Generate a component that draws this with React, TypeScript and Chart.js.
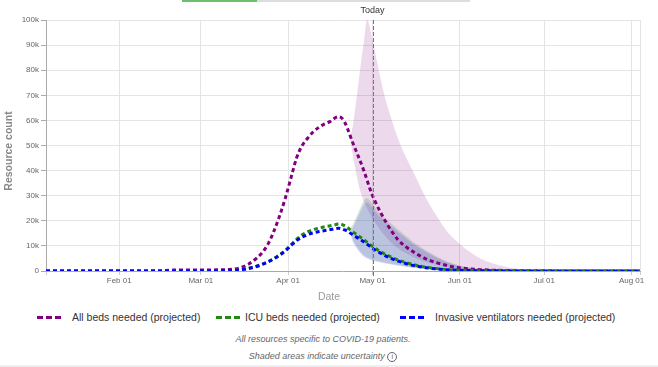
import React, { useEffect, useRef } from 'react';
import { Chart, registerables } from 'chart.js';

Chart.register(...registerables);

// ---- Data (day index: 0 = Jan 01 2020), values in thousands ----
const lineDays = [5, 40, 45, 50, 60, 66, 70, 72, 74, 77, 80, 82, 84, 86, 88, 90, 92, 94, 96, 98, 100, 102, 104, 106, 108, 109, 110, 111, 112, 114, 116, 118, 120, 121, 122, 124, 126, 128, 130, 133, 136, 140, 145, 150, 155, 160, 170, 185, 216];
const allBedsK = [0, 0, 0, 0.35, 0.4, 0.45, 0.6, 0.8, 1.3, 2.8, 5.3, 7.6, 11, 16, 22, 29, 37, 45, 50, 53, 55.5, 57.3, 58.6, 59.6, 61.2, 61.5, 61, 59.5, 57, 51, 45.5, 39.7, 33, 30, 27.5, 23, 19, 15.5, 12.5, 9.5, 7.3, 4.8, 2.9, 1.6, 0.9, 0.5, 0.15, 0.05, 0.02];
const icuBedsK = [0, 0, 0, 0, 0.05, 0.1, 0.2, 0.3, 0.5, 1.1, 2.0, 2.8, 3.8, 5.0, 6.5, 8.2, 10.4, 12.6, 14.4, 15.7, 16.5, 17.1, 17.6, 18.0, 18.5, 18.8, 18.6, 18.1, 17.4, 15.6, 14.0, 12.4, 10.6, 9.8, 9.0, 7.6, 6.4, 5.3, 4.4, 3.3, 2.4, 1.5, 0.8, 0.4, 0.22, 0.12, 0.04, 0.01, 0];
const ventilatorsK = [0, 0, 0, 0, 0.05, 0.1, 0.2, 0.3, 0.5, 1.0, 1.9, 2.7, 3.7, 4.9, 6.3, 8.0, 10.1, 12.1, 13.5, 14.5, 15.2, 15.7, 16.1, 16.5, 16.9, 17.0, 16.8, 16.4, 15.9, 14.4, 13.0, 11.5, 9.9, 9.1, 8.3, 7.0, 5.8, 4.8, 4.0, 2.9, 2.1, 1.3, 0.7, 0.35, 0.18, 0.1, 0.03, 0.01, 0];

const bandDays = [113, 114, 115, 116, 117, 118, 119, 121, 123, 125, 127, 129, 131, 133, 135, 138, 141, 144, 148, 152, 156, 160, 165, 170, 175, 180, 190, 200, 216];
const allBedsUpperK = [53, 58, 66, 75, 84, 92, 100, 92, 81, 71, 63, 56, 50, 45, 40.5, 33.5, 27, 21.5, 15, 10.8, 7.3, 4.6, 2.6, 1.3, 0.6, 0.3, 0.1, 0.05, 0];
const allBedsLowerK = [53, 46, 40, 34.5, 30.5, 27.5, 25, 21, 17.5, 14.5, 12, 10, 8.3, 7, 5.8, 4.4, 3.3, 2.4, 1.6, 1.0, 0.65, 0.4, 0.22, 0.12, 0.06, 0.03, 0.01, 0, 0];
const icuUpperK = [16.8, 18.5, 21, 23.5, 26, 28.3, 29, 26.8, 23.8, 21.5, 19.5, 17.6, 15.7, 13.8, 12, 9.7, 7.6, 5.7, 3.6, 2.2, 1.3, 0.75, 0.4, 0.2, 0.1, 0.05, 0.02, 0, 0];
const icuLowerK = [16.8, 12.5, 10.5, 8.8, 7.3, 6.2, 5.5, 4.6, 4.0, 3.5, 3.0, 2.6, 2.2, 1.8, 1.5, 1.1, 0.8, 0.55, 0.35, 0.2, 0.12, 0.08, 0.04, 0.02, 0.01, 0, 0, 0, 0];
const ventUpperK = [15.3, 17.2, 19.6, 22, 24.4, 26.6, 27.3, 25.2, 22.4, 20.2, 18.3, 16.5, 14.7, 12.9, 11.2, 9.0, 7.0, 5.2, 3.3, 2.0, 1.2, 0.7, 0.35, 0.18, 0.09, 0.04, 0.01, 0, 0];
const ventLowerK = [15.3, 11.5, 9.6, 8.0, 6.7, 5.6, 5.0, 4.1, 3.6, 3.1, 2.7, 2.3, 1.95, 1.6, 1.3, 0.95, 0.7, 0.48, 0.3, 0.17, 0.1, 0.06, 0.03, 0.015, 0.01, 0, 0, 0, 0];

const monthTickDays = [31, 60, 91, 121, 152, 182, 213];
const monthTickLabels = ['Feb 01', 'Mar 01', 'Apr 01', 'May 01', 'Jun 01', 'Jul 01', 'Aug 01'];
const xMinDay = 5;
const xMaxDay = 216;
const todayDay = 121;
const yMax = 100000;
const yStep = 10000;

const seriesNames = ['All beds needed (projected)', 'ICU beds needed (projected)', 'Invasive ventilators needed (projected)'];
const seriesColors = ['#800080', '#1f8a0f', '#0000ff'];
const bandColors = ['rgba(128,0,128,0.15)', 'rgba(60,120,60,0.2)', 'rgba(0,0,255,0.14)'];

const FONT = '"Liberation Sans", Arial, Helvetica, sans-serif';

const pts = (days: number[], vals: number[]) => days.map((d, i) => ({ x: d, y: vals[i] * 1000 }));

const overlayPlugin = {
  id: 'overlay',
  afterDatasetsDraw(chart: any) {
    const { ctx, chartArea, scales } = chart;
    const x = scales.x.getPixelForValue(todayDay);
    ctx.save();
    ctx.strokeStyle = '#777';
    ctx.lineWidth = 1;
    ctx.setLineDash([4, 2]);
    ctx.beginPath();
    ctx.moveTo(Math.round(x) + 0.5, chartArea.top);
    ctx.lineTo(Math.round(x) + 0.5, chartArea.bottom + 5);
    ctx.stroke();
    ctx.setLineDash([]);
    ctx.fillStyle = '#333';
    ctx.font = `9px ${FONT}`;
    ctx.textAlign = 'center';
    ctx.textBaseline = 'middle';
    ctx.fillText('Today', x, chartArea.top - 9);
    // axis titles
    ctx.fillStyle = '#999';
    ctx.font = `10.5px ${FONT}`;
    ctx.fillText('Date', chart.width / 2, 297);
    ctx.translate(9, 151);
    ctx.rotate(-Math.PI / 2);
    ctx.fillStyle = '#888';
    ctx.font = `bold 10.5px ${FONT}`;
    ctx.fillText('Resource count', 0, 0);
    ctx.restore();
  },
};

function ChartCanvas() {
  const ref = useRef<HTMLCanvasElement>(null);
  useEffect(() => {
    if (!ref.current) return;
    const lineSet = (i: number, vals: number[]) => ({
      label: seriesNames[i],
      data: pts(lineDays, vals),
      borderColor: seriesColors[i],
      backgroundColor: seriesColors[i],
      borderWidth: 3,
      borderDash: [4, 3],
      pointRadius: 0,
      fill: false,
      cubicInterpolationMode: 'monotone',
    });
    const bandSet = (i: number, vals: number[], upper: boolean) => ({
      label: 'band',
      data: pts(bandDays, vals),
      borderWidth: 0,
      borderColor: 'transparent',
      backgroundColor: bandColors[i],
      pointRadius: 0,
      fill: upper ? '+1' : false,
      cubicInterpolationMode: 'monotone',
    });
    const chart = new Chart(ref.current, {
      type: 'line',
      data: {
        datasets: [
          lineSet(2, ventilatorsK),
          lineSet(1, icuBedsK),
          lineSet(0, allBedsK),
          bandSet(2, ventUpperK, true),
          bandSet(2, ventLowerK, false),
          bandSet(1, icuUpperK, true),
          bandSet(1, icuLowerK, false),
          bandSet(0, allBedsUpperK, true),
          bandSet(0, allBedsLowerK, false),
        ] as any,
      },
      options: {
        animation: false,
        responsive: false,
        layout: { padding: { left: 0, right: 18, top: 20, bottom: 0 } },
        plugins: { legend: { display: false }, tooltip: { enabled: false }, title: { display: false } },
        scales: {
          x: {
            type: 'linear',
            min: xMinDay,
            max: xMaxDay,
            afterBuildTicks: (s: any) => {
              s.ticks = [xMinDay, ...monthTickDays, xMaxDay].map((v) => ({ value: v }));
            },
            afterFit: (s: any) => {
              s.height = 34;
            },
            ticks: {
              autoSkip: false,
              maxRotation: 0,
              padding: 1,
              color: '#666',
              font: { size: 8, family: FONT },
              callback: (v: any) => {
                const i = monthTickDays.indexOf(Number(v));
                return i >= 0 ? monthTickLabels[i] : '';
              },
            },
            grid: { color: '#e4e4e4', tickLength: 4, tickColor: '#ccc' },
            border: { color: '#aaa' },
          },
          y: {
            min: 0,
            max: yMax,
            afterFit: (s: any) => {
              s.width = 46;
            },
            ticks: {
              stepSize: yStep,
              padding: 2,
              color: '#666',
              font: { size: 8, family: FONT },
              callback: (v: any) => (Number(v) === 0 ? '0' : `${Number(v) / 1000}k`),
            },
            grid: { color: '#e4e4e4', tickLength: 5, tickColor: '#aaa' },
            border: { color: '#aaa' },
          },
        },
      },
      plugins: [overlayPlugin],
    });
    return () => chart.destroy();
  }, []);
  return <canvas ref={ref} width={658} height={305} style={{ display: 'block' }} />;
}

const legendIconLeft = [37, 216, 400];
const legendTextLeft = [72, 245, 435];

export default function App() {
  return (
    <div style={{ position: 'absolute', left: 0, top: 0, width: 658, height: 367, background: '#fff', fontFamily: FONT, overflow: 'hidden' }}>
      <div style={{ position: 'absolute', left: 182, top: 0, width: 288, height: 2, background: '#ddd' }} />
      <div style={{ position: 'absolute', left: 182, top: 0, width: 75, height: 2, background: '#6cbf6c' }} />
      <ChartCanvas />
      {seriesNames.map((name, i) => (
        <React.Fragment key={name}>
          <div
            style={{
              position: 'absolute',
              left: legendIconLeft[i],
              top: 316,
              width: 24,
              height: 3,
              background: `repeating-linear-gradient(to right, ${seriesColors[i]} 0px, ${seriesColors[i]} 6px, transparent 6px, transparent 9px)`,
            }}
          />
          <div style={{ position: 'absolute', left: legendTextLeft[i], top: 310, fontSize: 10.5, lineHeight: '14px', color: '#333', whiteSpace: 'nowrap' }}>{name}</div>
        </React.Fragment>
      ))}
      <div style={{ position: 'absolute', left: 0, width: 646, top: 333, textAlign: 'center', fontSize: 9, lineHeight: '12px', fontStyle: 'italic', color: '#666' }}>
        All resources specific to COVID-19 patients.
      </div>
      <div style={{ position: 'absolute', left: 0, width: 646, top: 350, textAlign: 'center', fontSize: 9, lineHeight: '12px', fontStyle: 'italic', color: '#666' }}>
        Shaded areas indicate uncertainty{' '}
        <span style={{ display: 'inline-block', width: 8, height: 8, border: '1px solid #666', borderRadius: '50%', fontSize: 7, lineHeight: '8px', textAlign: 'center', fontStyle: 'normal', verticalAlign: 'middle' }}>i</span>
      </div>
      <div style={{ position: 'absolute', left: 0, top: 365, width: 658, height: 2, background: '#eee' }} />
    </div>
  );
}
